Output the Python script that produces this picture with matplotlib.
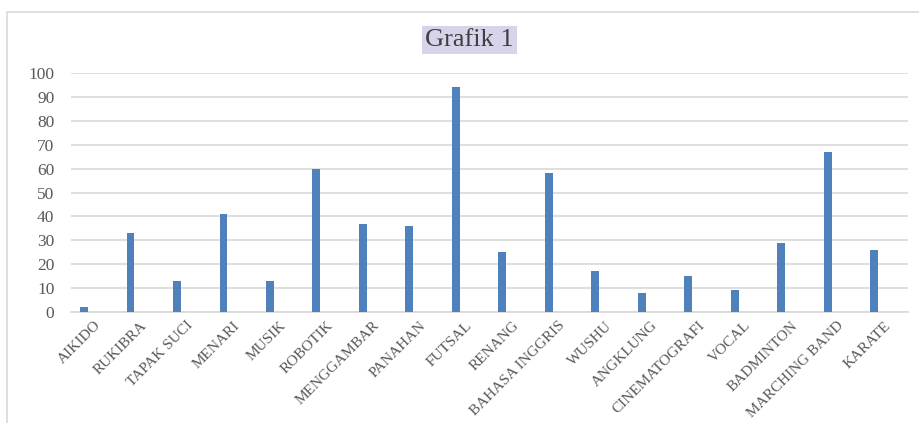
import matplotlib.pyplot as plt
import matplotlib.transforms as mtransforms
from matplotlib.patches import Rectangle

# data
kategori = ['AIKIDO', 'RUKIBRA', 'TAPAK SUCI', 'MENARI', 'MUSIK', 'ROBOTIK',
            'MENGGAMBAR', 'PANAHAN', 'FUTSAL', 'RENANG', 'BAHASA INGGRIS', 'WUSHU',
            'ANGKLUNG', 'CINEMATOGRAFI', 'VOCAL', 'BADMINTON', 'MARCHING BAND', 'KARATE']
nilai = [2, 33, 13, 41, 13, 60, 37, 36, 94, 25, 58, 17, 8, 15, 9, 29, 67, 26]
yticks = list(range(0, 101, 10))

plt.rcParams['font.family'] = ['Liberation Serif', 'DejaVu Serif']

fig = plt.figure(figsize=(9.19, 4.23), dpi=100)
ax = fig.add_axes([0.0773, 0.2624, 0.9107, 0.565])

# frame of the chart
fig.patches.append(Rectangle((7 / 919, -0.05), 1.0, 1 - 12 / 423 + 0.05,
                             transform=fig.transFigure, fill=False,
                             edgecolor='#D9D9D9', linewidth=1.2))

x = range(len(kategori))
ax.bar(x, nilai, width=0.17, color='#4F81BD', zorder=3)

ax.set_ylim(0, 100)
ax.set_xlim(-0.28, 17.73)
ax.set_yticks(yticks)
ax.set_yticklabels([str(v) for v in yticks], fontsize=12.5, color='#595959')
ax.set_xticks(list(x))
ax.set_xticklabels(kategori, rotation=45, ha='right', rotation_mode='anchor',
                   fontsize=11, color='#595959')
ax.tick_params(axis='both', length=0)
ax.tick_params(axis='y', pad=12)
ax.tick_params(axis='x', pad=5)

# geser label kategori sedikit ke kanan
geser = mtransforms.ScaledTranslation(7 / 72, 0, fig.dpi_scale_trans)
for lbl in ax.get_xticklabels():
    lbl.set_transform(lbl.get_transform() + geser)

ax.grid(axis='y', color='#D9D9D9', linewidth=1.2, zorder=0)
for s in ['top', 'right', 'left']:
    ax.spines[s].set_visible(False)
ax.spines['bottom'].set_color('#D9D9D9')
ax.spines['bottom'].set_linewidth(1.2)

fig.text(0.511, 0.905, 'Grafik 1', ha='center', va='center', fontsize=19,
         color='#404040',
         bbox=dict(facecolor='#D6D3EA', edgecolor='none', pad=2))

fig.savefig('out.png', dpi=100)
